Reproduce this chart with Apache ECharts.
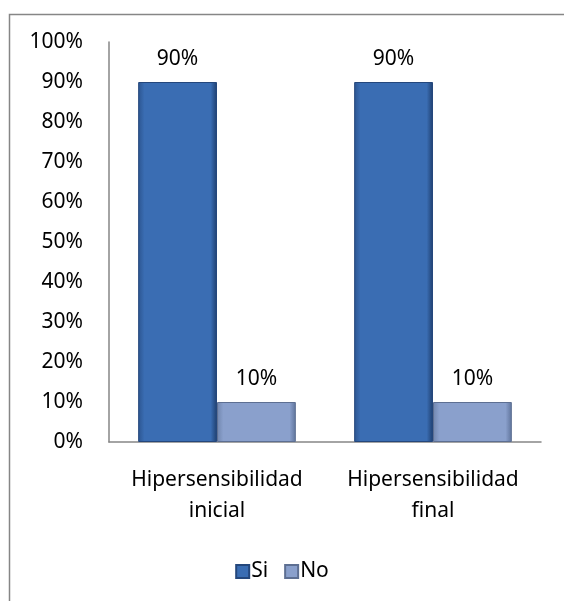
<!DOCTYPE html>
<html>
<head>
<meta charset="utf-8">
<script src="https://cdn.jsdelivr.net/npm/echarts@6/dist/echarts.min.js"></script>
<style>html,body{margin:0;padding:0;background:#fff}#c{width:564px;height:601px}</style>
</head>
<body>
<div id="c"></div>
<script>
var categories = ['Hipersensibilidad\ninicial', 'Hipersensibilidad\nfinal'];
var seriesNames = ['Si', 'No'];
var siValues = [90, 90];
var noValues = [10, 10];
var yTicks = [0, 10, 20, 30, 40, 50, 60, 70, 80, 90, 100];

var FONT = 'Noto Sans';
var FS = 21;
function grad(top, mid, bot) {
  return new echarts.graphic.LinearGradient(0, 0, 1, 0, [
    {offset: 0, color: bot}, {offset: 0.08, color: mid}, {offset: 0.92, color: mid}, {offset: 1, color: top}
  ]);
}
var chart = echarts.init(document.getElementById('c'), null, {renderer: 'canvas'});
chart.setOption({
  backgroundColor: '#fff',
  animation: false,
  graphic: [{
    type: 'rect', left: 7, top: 12, shape: {width: 600, height: 620},
    style: {fill: 'none', stroke: '#868686', lineWidth: 1.5}, silent: true
  }],
  grid: {left: 109, right: 23, top: 42, bottom: 159, containLabel: false},
  legend: {
    data: seriesNames, bottom: 14, left: 'center', itemWidth: 13, itemHeight: 13, itemGap: 16,
    icon: 'rect',
    textStyle: {fontFamily: FONT, fontSize: FS, color: '#000', padding: [0, 0, 0, -3]}
  },
  xAxis: {
    type: 'category', data: categories,
    axisLine: {lineStyle: {color: '#868686', width: 1.5}},
    axisTick: {show: false},
    axisLabel: {fontFamily: FONT, fontSize: FS, color: '#000', lineHeight: 31, margin: 23, interval: 0}
  },
  yAxis: {
    type: 'value', min: 0, max: 100, interval: 10,
    axisLine: {show: true, lineStyle: {color: '#868686', width: 1.5}},
    axisTick: {show: false},
    splitLine: {show: false},
    axisLabel: {fontFamily: FONT, fontSize: FS, color: '#000', margin: 26,
      formatter: function (v) { return yTicks.indexOf(v) >= 0 ? v + '%' : ''; }}
  },
  series: [{
    name: 'Si', type: 'bar', data: siValues, barGap: '0%', barCategoryGap: '27%',
    itemStyle: {color: grad('#1f3f6e', '#3a6db3', '#2c5590'), borderColor: '#24477c', borderWidth: 1},
    label: {show: true, position: 'top', distance: 12, fontFamily: FONT, fontSize: FS, color: '#000',
      formatter: function (p) { return p.value + '%'; }}
  }, {
    name: 'No', type: 'bar', data: noValues,
    itemStyle: {color: grad('#5f739a', '#8aa0cc', '#7085ad'), borderColor: '#5d6f92', borderWidth: 1},
    label: {show: true, position: 'top', distance: 12, fontFamily: FONT, fontSize: FS, color: '#000',
      formatter: function (p) { return p.value + '%'; }}
  }]
});
</script>
</body>
</html>
